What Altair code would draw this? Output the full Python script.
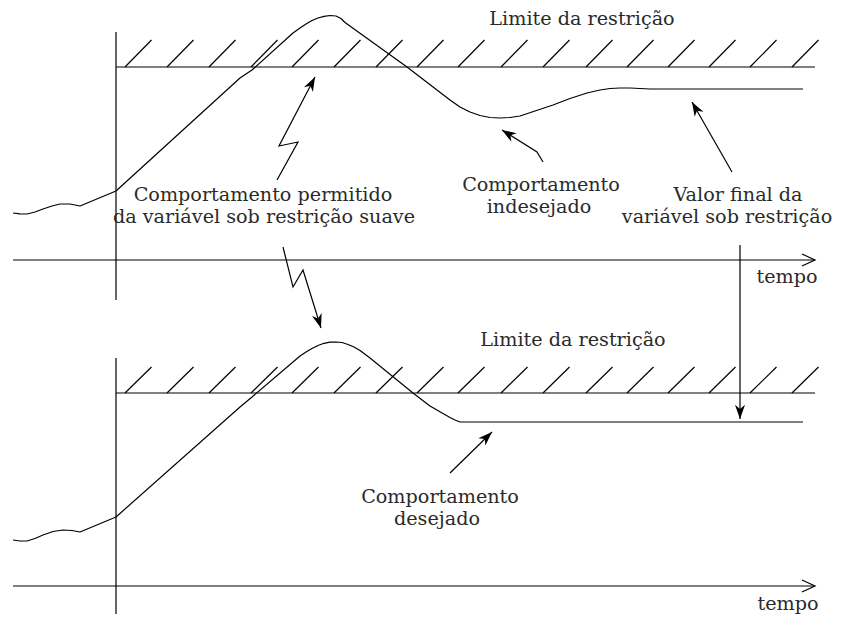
import math
import altair as alt
import pandas as pd

# ---------------- data (pixel-like units) ----------------
# straight reference lines: x1, y1, x2, y2
line_x1 = [13, 13, 116, 116, 116, 116]
line_y1 = [260, 586, 32, 358, 67, 393]
line_x2 = [815, 815, 116, 116, 815, 815]
line_y2 = [260, 586, 300, 623, 67, 393]

# hatching above the constraint lines
hatch_base_x = [125, 167, 209, 251, 292, 334, 376, 417, 458, 501, 543, 586, 627, 668, 709, 750, 792]
hatch_panel_base_y = [67, 393]
hatch_panel_top_y = [40, 367]
hatch_dx = 26.5

# constrained variable, top panel (soft constraint)
curve_top_x = [13, 20, 27, 35, 43, 52, 60, 70, 80, 116, 240, 252, 293, 300, 306, 312, 318, 324, 330,
               336, 341, 345, 407, 450, 460, 470, 480, 490, 500, 510, 520, 535, 553, 570, 587, 600,
               610, 620, 630, 640, 650, 803]
curve_top_y = [213, 213.8, 214, 212, 209, 206, 204, 204, 206, 191, 78, 70, 33, 28, 24, 20.5, 18, 16.3, 15.5,
               16, 18.5, 22.5, 67, 100, 107, 112, 115.5, 117.5, 118, 117.5, 116, 111, 105, 98.5, 93, 90,
               88.5, 88, 88, 88.5, 89, 89]

# constrained variable, bottom panel (desired)
curve_bot_x = [13, 20, 27, 35, 43, 53, 63, 72, 80, 116, 240, 252, 293, 300, 306, 312, 318, 324, 330,
               336, 342, 348, 354, 360, 370, 413, 430, 443, 450, 455, 460, 803]
curve_bot_y = [540, 541, 541, 538.5, 535, 531.5, 530, 530.5, 532, 517, 407, 397, 362, 356, 352, 348.5,
               345.5, 343.3, 342.2, 342, 342.5, 344.5, 347, 350.5, 358, 393, 406, 413.5, 417.5, 420, 422, 422]

# annotation arrows (polyline, last point is the tip)
arrow_a1_x = [277, 298, 279, 315]
arrow_a1_y = [180, 142, 146, 77]
arrow_a2_x = [283, 293, 303, 321]
arrow_a2_y = [247, 287, 270, 328]
arrow_a3_x = [543, 537, 502]
arrow_a3_y = [162, 152, 130]
arrow_a4_x = [732, 692]
arrow_a4_y = [172, 102]
arrow_a5_x = [740, 740]
arrow_a5_y = [245, 419]
arrow_a6_x = [450, 492]
arrow_a6_y = [473, 432]

# time-axis open arrowheads
chevron_x = [815, 815]
chevron_y = [260, 586]

# labels: text, centre x, baseline y
label_text = ["Limite da restrição", "Limite da restrição",
              "Comportamento permitido", "da variável sob restrição suave",
              "Comportamento", "indesejado",
              "Valor final da", "variável sob restrição",
              "Comportamento", "desejado",
              "tempo", "tempo"]
label_x = [582, 573, 263, 264, 541, 539, 738, 727, 440, 437, 787, 788]
label_y = [25, 346, 201, 223, 190.5, 212.5, 200.5, 222.5, 502.5, 524.5, 283, 610]

# ---------------- tables ----------------
rules = pd.DataFrame({"x": line_x1, "y": line_y1, "x2": line_x2, "y2": line_y2})
hatch_rows = []
for by, ty in zip(hatch_panel_base_y, hatch_panel_top_y):
    for bx in hatch_base_x:
        hatch_rows.append({"x": bx, "y": by, "x2": bx + hatch_dx, "y2": ty})
rules = pd.concat([rules, pd.DataFrame(hatch_rows)], ignore_index=True)

curves = pd.concat([
    pd.DataFrame({"id": "top", "i": range(len(curve_top_x)), "x": curve_top_x, "y": curve_top_y}),
    pd.DataFrame({"id": "bot", "i": range(len(curve_bot_x)), "x": curve_bot_x, "y": curve_bot_y}),
], ignore_index=True)

arrows = {
    "a1": (arrow_a1_x, arrow_a1_y), "a2": (arrow_a2_x, arrow_a2_y),
    "a3": (arrow_a3_x, arrow_a3_y), "a4": (arrow_a4_x, arrow_a4_y),
    "a5": (arrow_a5_x, arrow_a5_y), "a6": (arrow_a6_x, arrow_a6_y),
}
shaft_rows, head_rows = [], []
for k, (xs_, ys_) in arrows.items():
    for i, (xx, yy) in enumerate(zip(xs_, ys_)):
        shaft_rows.append({"id": k, "i": i, "x": xx, "y": yy})
    dx = xs_[-1] - xs_[-2]
    dy = ys_[-1] - ys_[-2]
    ang = (math.degrees(math.atan2(dx, -dy)) + 360) % 360
    head_rows.append({"x": xs_[-1], "y": ys_[-1], "angle": ang})
shafts = pd.DataFrame(shaft_rows)
heads = pd.DataFrame(head_rows)
chevrons = pd.DataFrame({"x": chevron_x, "y": chevron_y})
labels = pd.DataFrame({"text": label_text, "x": label_x, "y": label_y})

# ---------------- chart ----------------
# plot area sits at the page's 8px margin; keep the page inside 841x623
W, H = 825, 606
xs = alt.Scale(domain=[8, 8 + W], nice=False, zero=False)
ys = alt.Scale(domain=[8, 8 + H], nice=False, zero=False, reverse=True)
X = alt.X("x:Q", scale=xs, axis=None)
Y = alt.Y("y:Q", scale=ys, axis=None)
SW = 1.2
FONT = "DejaVu Serif"

rule_layer = alt.Chart(rules).mark_rule(color="black", strokeWidth=SW).encode(
    x=X, y=Y, x2="x2:Q", y2="y2:Q")

curve_layer = alt.Chart(curves).mark_line(color="black", strokeWidth=SW, interpolate="linear",
                                          strokeJoin="round").encode(
    x=X, y=Y, detail="id:N", order="i:Q")

shaft_layer = alt.Chart(shafts).mark_line(color="black", strokeWidth=SW).encode(
    x=X, y=Y, detail="id:N", order="i:Q")

head_layer = alt.Chart(heads).mark_point(
    shape="M0,0 L-0.48,1.35 L0,0.95 L0.48,1.35 Z", size=441, filled=True,
    color="black", opacity=1, strokeWidth=0.6).encode(
    x=X, y=Y, angle=alt.Angle("angle:Q", scale=None))

chevron_layer = alt.Chart(chevrons).mark_point(
    shape="M-0.6,1.3 L0,0 L0.6,1.3", size=400, filled=False,
    color="black", opacity=1, strokeWidth=SW, angle=90).encode(x=X, y=Y)

text_layer = alt.Chart(labels).mark_text(
    font=FONT, fontSize=19.2, color="#2a2a2a", align="center", baseline="alphabetic").encode(
    x=X, y=Y, text="text:N")

chart = alt.layer(rule_layer, curve_layer, shaft_layer, head_layer, chevron_layer, text_layer).properties(
    width=W, height=H, padding=0, autosize=alt.AutoSizeParams(type="none"),
    background="white").configure_view(stroke=None)

chart.save("out.html", embed_options={"renderer": "svg", "actions": False})
